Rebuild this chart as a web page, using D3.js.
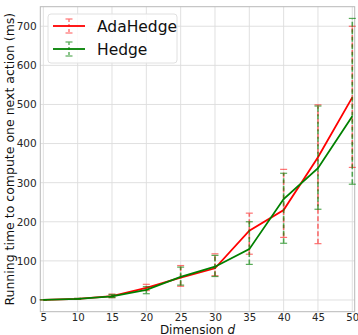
<!DOCTYPE html>
<html>
<head>
<meta charset="utf-8">
<script src="https://cdn.jsdelivr.net/npm/d3@7"></script>
<style>
  body { margin: 0; background: #fff; }
  svg { display: block; font-family: "DejaVu Sans", sans-serif; }
</style>
</head>
<body>
<div id="chart"></div>
<script>
const dims = [5, 10, 15, 20, 25, 30, 35, 40, 45, 50];

const adaMean = [0, 3, 10, 31, 57, 81, 177, 230, 365, 518];
const adaLow = [0, 2, 6, 24, 35, 62, 117, 160, 144, 339];
const adaHigh = [1, 4, 15, 40, 88, 118, 222, 334, 499, 700];

const hedgeMean = [0, 3, 9, 26, 59, 85, 130, 258, 337, 470];
const hedgeLow = [0, 2, 6, 16, 38, 60, 91, 145, 232, 296];
const hedgeHigh = [1, 4, 14, 34, 84, 114, 200, 324, 496, 720];

const xTicks = [5, 10, 15, 20, 25, 30, 35, 40, 45, 50];
const yTicks = [0, 100, 200, 300, 400, 500, 600, 700];

const series = [
  { name: "AdaHedge", color: "#ff0000", mean: adaMean, low: adaLow, high: adaHigh, barOpacity: 0.55 },
  { name: "Hedge", color: "#008000", mean: hedgeMean, low: hedgeLow, high: hedgeHigh, barOpacity: 0.65 }
];

const width = 358;
const height = 335;
const margin = { top: 6.7, right: 3.3, bottom: 23.3, left: 40.3 };

const svg = d3.select("#chart")
  .append("svg")
  .attr("width", width)
  .attr("height", height);

const x = d3.scaleLinear()
  .domain([4.56, 50.35])
  .range([margin.left, width - margin.right]);

const y = d3.scaleLinear()
  .domain([-30, 750])
  .range([height - margin.bottom, margin.top]);

// grid
svg.append("g")
  .selectAll("line")
  .data(xTicks)
  .enter()
  .append("line")
  .attr("x1", (d) => x(d))
  .attr("x2", (d) => x(d))
  .attr("y1", margin.top)
  .attr("y2", height - margin.bottom)
  .attr("stroke", "#dcdcdc")
  .attr("stroke-width", 0.9);

svg.append("g")
  .selectAll("line")
  .data(yTicks)
  .enter()
  .append("line")
  .attr("x1", margin.left)
  .attr("x2", width - margin.right)
  .attr("y1", (d) => y(d))
  .attr("y2", (d) => y(d))
  .attr("stroke", "#dcdcdc")
  .attr("stroke-width", 0.9);

// axes (labels only)
const xAxis = svg.append("g")
  .attr("transform", `translate(0,${height - margin.bottom})`)
  .call(d3.axisBottom(x).tickValues(xTicks).tickSize(0).tickPadding(2.5));
xAxis.select(".domain").remove();
xAxis.selectAll("text").attr("font-size", 10.2).attr("fill", "#262626")
  .attr("font-family", "DejaVu Sans, sans-serif");

const yAxis = svg.append("g")
  .attr("transform", `translate(${margin.left},0)`)
  .call(d3.axisLeft(y).tickValues(yTicks).tickSize(0).tickPadding(3.6));
yAxis.select(".domain").remove();
yAxis.selectAll("text").attr("font-size", 10.5).attr("fill", "#262626")
  .attr("font-family", "DejaVu Sans, sans-serif");

// frame
svg.append("rect")
  .attr("x", margin.left)
  .attr("y", margin.top)
  .attr("width", width - margin.left - margin.right)
  .attr("height", height - margin.top - margin.bottom)
  .attr("fill", "none")
  .attr("stroke", "#b8b8b8")
  .attr("stroke-width", 1);

const line = d3.line()
  .x((d) => x(d[0]))
  .y((d) => y(d[1]));

series.forEach((s) => {
  const g = svg.append("g");
  const bars = g.append("g").attr("opacity", s.barOpacity);
  dims.forEach((d, i) => {
    bars.append("line")
      .attr("x1", x(d)).attr("x2", x(d))
      .attr("y1", y(s.low[i])).attr("y2", y(s.high[i]))
      .attr("stroke", s.color)
      .attr("stroke-width", 1.6)
      .attr("stroke-dasharray", "5,2.5");
    [s.low[i], s.high[i]].forEach((v) => {
      bars.append("line")
        .attr("x1", x(d) - 3.5).attr("x2", x(d) + 3.5)
        .attr("y1", y(v)).attr("y2", y(v))
        .attr("stroke", s.color)
        .attr("stroke-width", 1.2);
    });
  });
  g.append("path")
    .datum(dims.map((d, i) => [d, s.mean[i]]))
    .attr("d", line)
    .attr("fill", "none")
    .attr("stroke", s.color)
    .attr("stroke-width", 1.8);
});

// legend
const legend = svg.append("g").attr("transform", "translate(48,14)");
legend.append("rect")
  .attr("width", 129)
  .attr("height", 49)
  .attr("rx", 3)
  .attr("fill", "#fff")
  .attr("fill-opacity", 0.85)
  .attr("stroke", "#e0e0e0");

series.forEach((s, i) => {
  const row = legend.append("g").attr("transform", `translate(0,${12 + i * 23})`);
  const bars = row.append("g").attr("opacity", s.barOpacity);
  bars.append("line")
    .attr("x1", 21).attr("x2", 21).attr("y1", -7).attr("y2", 7)
    .attr("stroke", s.color).attr("stroke-width", 1.4)
    .attr("stroke-dasharray", "3,2");
  [-7, 7].forEach((v) => {
    bars.append("line")
      .attr("x1", 17.5).attr("x2", 24.5).attr("y1", v).attr("y2", v)
      .attr("stroke", s.color).attr("stroke-width", 1.2);
  });
  row.append("line")
    .attr("x1", 5).attr("x2", 37).attr("y1", 0).attr("y2", 0)
    .attr("stroke", s.color).attr("stroke-width", 1.8);
  row.append("text")
    .attr("x", 49)
    .attr("y", 6)
    .attr("font-size", 15.5)
    .attr("fill", "#111")
    .text(s.name);
});

// axis titles
const xTitle = svg.append("text")
  .attr("x", 197.5)
  .attr("y", height - 1.5)
  .attr("text-anchor", "middle")
  .attr("font-size", 12)
  .attr("fill", "#111");
xTitle.append("tspan").text("Dimension ");
xTitle.append("tspan").attr("font-style", "italic").text("d");

svg.append("text")
  .attr("transform", `translate(14,${(margin.top + height - margin.bottom) / 2}) rotate(-90)`)
  .attr("text-anchor", "middle")
  .attr("font-size", 12.5)
  .attr("fill", "#111")
  .text("Running time to compute one next action (ms)");
</script>
</body>
</html>
